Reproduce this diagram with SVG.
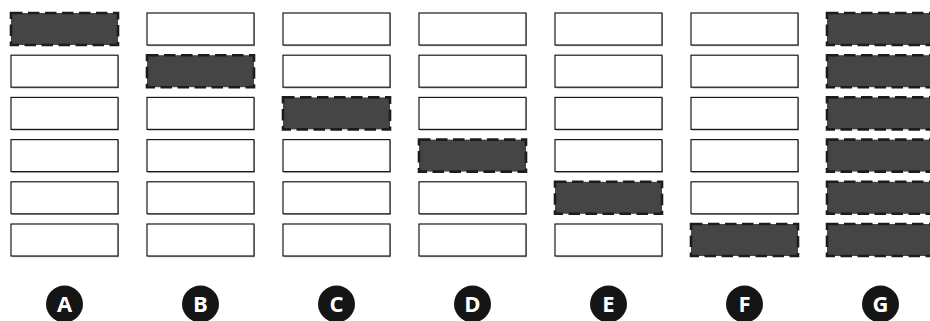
<svg xmlns="http://www.w3.org/2000/svg" width="930" height="321" viewBox="0 0 930 321">
<style>
.b{fill:#fff;stroke:#1a1a1a;stroke-width:1.2}
.sh{fill:#a8a8a8}
.d{fill:#454545;stroke:#1c1c1c;stroke-width:2.6;stroke-dasharray:11.5 5.5}
.c{fill:#151515}
.t{fill:#fff;font-family:"Open Sans",sans-serif;font-weight:700;font-size:22px;text-anchor:middle}
</style>
<defs>
<g id="nb"><rect class="sh" x="1" y="1.2" width="107" height="32"/><rect class="b" x="0" y="0" width="107" height="32"/></g>
<rect id="db" class="d" x="0" y="0" width="107" height="32"/>
</defs>
<g id="colA">
<use href="#db" x="11" y="13"/><use href="#nb" x="11" y="55.2"/><use href="#nb" x="11" y="97.4"/><use href="#nb" x="11" y="139.6"/><use href="#nb" x="11" y="181.8"/><use href="#nb" x="11" y="224"/>
</g>
<g id="colB">
<use href="#nb" x="147" y="13"/><use href="#db" x="147" y="55.2"/><use href="#nb" x="147" y="97.4"/><use href="#nb" x="147" y="139.6"/><use href="#nb" x="147" y="181.8"/><use href="#nb" x="147" y="224"/>
</g>
<g id="colC">
<use href="#nb" x="283" y="13"/><use href="#nb" x="283" y="55.2"/><use href="#db" x="283" y="97.4"/><use href="#nb" x="283" y="139.6"/><use href="#nb" x="283" y="181.8"/><use href="#nb" x="283" y="224"/>
</g>
<g id="colD">
<use href="#nb" x="419" y="13"/><use href="#nb" x="419" y="55.2"/><use href="#nb" x="419" y="97.4"/><use href="#db" x="419" y="139.6"/><use href="#nb" x="419" y="181.8"/><use href="#nb" x="419" y="224"/>
</g>
<g id="colE">
<use href="#nb" x="555" y="13"/><use href="#nb" x="555" y="55.2"/><use href="#nb" x="555" y="97.4"/><use href="#nb" x="555" y="139.6"/><use href="#db" x="555" y="181.8"/><use href="#nb" x="555" y="224"/>
</g>
<g id="colF">
<use href="#nb" x="691" y="13"/><use href="#nb" x="691" y="55.2"/><use href="#nb" x="691" y="97.4"/><use href="#nb" x="691" y="139.6"/><use href="#nb" x="691" y="181.8"/><use href="#db" x="691" y="224"/>
</g>
<g id="colG">
<use href="#db" x="827" y="13"/><use href="#db" x="827" y="55.2"/><use href="#db" x="827" y="97.4"/><use href="#db" x="827" y="139.6"/><use href="#db" x="827" y="181.8"/><use href="#db" x="827" y="224"/>
</g>
<g id="labels">
<g id="lA"><circle class="c" cx="64.5" cy="304" r="18.5"/><text class="t" x="64.5" y="312">A</text></g>
<g id="lB"><circle class="c" cx="200.5" cy="304" r="18.5"/><text class="t" x="200.5" y="312">B</text></g>
<g id="lC"><circle class="c" cx="336.5" cy="304" r="18.5"/><text class="t" x="336.5" y="312">C</text></g>
<g id="lD"><circle class="c" cx="472.5" cy="304" r="18.5"/><text class="t" x="472.5" y="312">D</text></g>
<g id="lE"><circle class="c" cx="608.5" cy="304" r="18.5"/><text class="t" x="608.5" y="312">E</text></g>
<g id="lF"><circle class="c" cx="744.5" cy="304" r="18.5"/><text class="t" x="744.5" y="312">F</text></g>
<g id="lG"><circle class="c" cx="880.5" cy="304" r="18.5"/><text class="t" x="880.5" y="312">G</text></g>
</g>
</svg>
